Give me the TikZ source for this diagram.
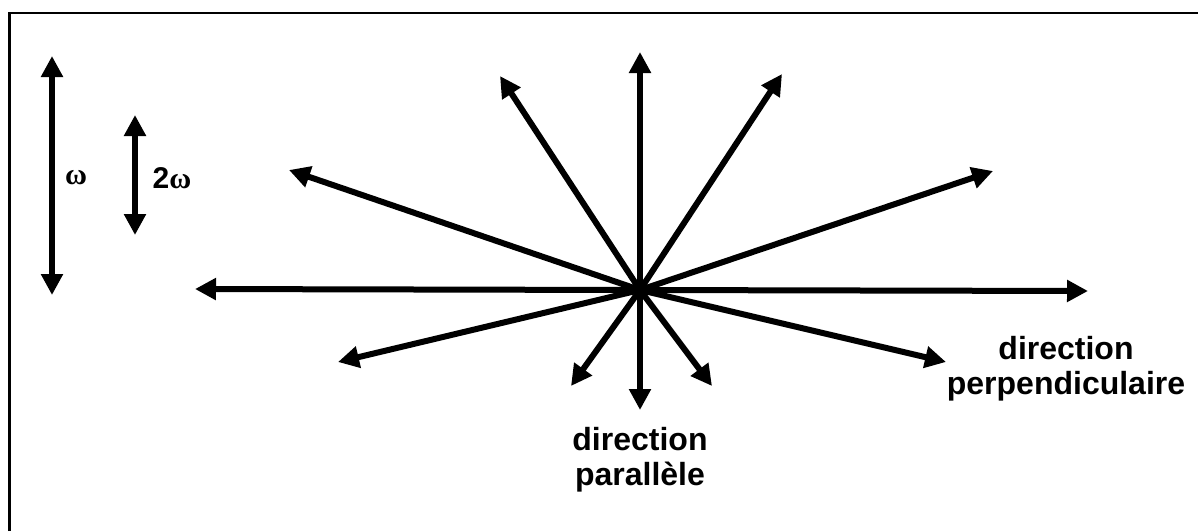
\documentclass[tikz,border=0pt]{standalone}
\usepackage{fontspec}
\setmainfont{Liberation Sans}
\newfontfamily\omegafont{Liberation Serif}
\usetikzlibrary{arrows.meta}
\begin{document}
\begin{tikzpicture}[x=1pt,y=-1pt,
  arr/.style={line width=6pt,-{Triangle[length=21pt,width=21pt]}},
  darr/.style={line width=6pt,{Triangle[length=21pt,width=21pt]}-{Triangle[length=21pt,width=21pt]}},
  lbl/.style={font=\fontsize{32}{35}\selectfont\bfseries,align=center,inner sep=0pt},
  wlbl/.style={font=\fontsize{30}{34}\selectfont\bfseries,inner sep=0pt}]
\useasboundingbox (0,0) rectangle (1198,531);
\draw[line width=2.5pt] (9.5,531) -- (9.5,13) -- (1198,13);
% centre and tips
\coordinate (c) at (640,290);
\coordinate (tU) at (640,52);
\coordinate (tD) at (640,410);
\coordinate (tL) at (195,289);
\coordinate (tR) at (1088,291);
\coordinate (tUL1) at (289,170);
\coordinate (tUL2) at (500,76);
\coordinate (tUR2) at (782,74);
\coordinate (tUR1) at (993,171);
\coordinate (tDL1) at (338,362);
\coordinate (tDR1) at (946,362);
\coordinate (tDL2) at (571,386);
\coordinate (tDR2) at (712,386);
\foreach \t in {tU,tD,tL,tR,tUL1,tUL2,tUR2,tUR1,tDL1,tDR1,tDL2,tDR2}
  \draw[arr] (c) -- (\t);
% scale arrows
\coordinate (wA) at (52,56);
\coordinate (wB) at (52,295);
\coordinate (vA) at (135,115);
\coordinate (vB) at (135,235);
\draw[darr] (wA) -- (wB);
\draw[darr] (vA) -- (vB);
\node[wlbl] (w1) at (76,178) {\omegafont ω};
\node[wlbl] (w2) at (172,178) {2{\omegafont ω}};
% labels
\node[lbl] (par) at (640,460) {direction\\parallèle};
\node[lbl] (perp) at (1066,369) {direction\\perpendiculaire};
\end{tikzpicture}
\end{document}
